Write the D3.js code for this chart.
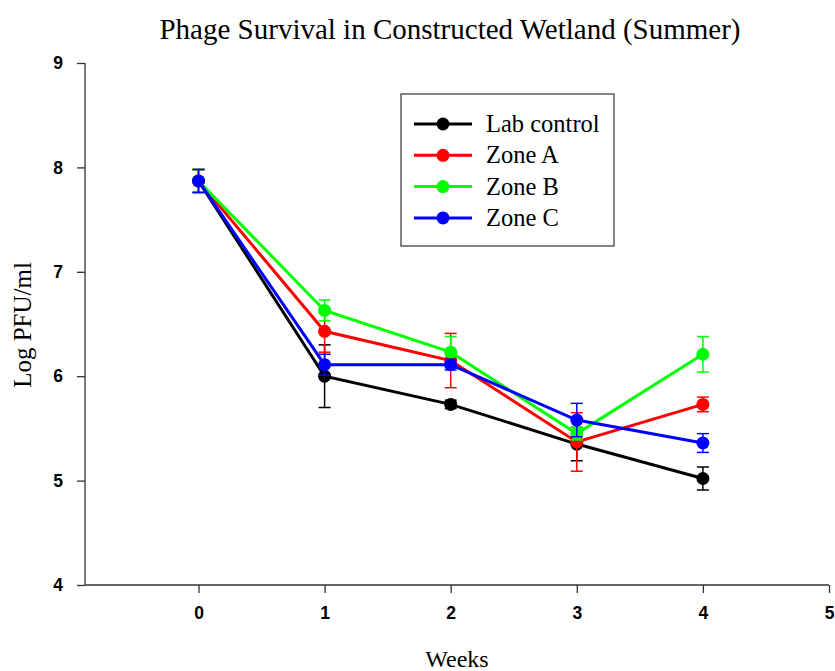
<!DOCTYPE html>
<html>
<head>
<meta charset="utf-8">
<title>Phage Survival</title>
<script src="https://cdn.jsdelivr.net/npm/d3@7"></script>
<style>
  body { margin: 0; background: #fff; }
  .tick text { font-family: "Liberation Sans", Arial, sans-serif; font-weight: bold; font-size: 17.5px; }
</style>
</head>
<body>
<svg width="835" height="671"></svg>
<script>
var weeks = [0, 1, 2, 3, 4];
var seriesNames = ["Lab control", "Zone A", "Zone B", "Zone C"];
var seriesColors = ["#000000", "#ff0000", "#00ff00", "#0000ff"];
var labControl = [7.87, 6.00, 5.73, 5.35, 5.02];
var labControlErr = [0.11, 0.30, 0.04, 0.16, 0.11];
var zoneA = [7.87, 6.43, 6.15, 5.37, 5.73];
var zoneAErr = [0.11, 0.20, 0.26, 0.28, 0.07];
var zoneB = [7.87, 6.63, 6.23, 5.45, 6.21];
var zoneBErr = [0.11, 0.10, 0.15, 0.06, 0.17];
var zoneC = [7.87, 6.11, 6.11, 5.58, 5.36];
var zoneCErr = [0.11, 0.10, 0.05, 0.16, 0.09];
var yTicks = [4, 5, 6, 7, 8, 9];
var xTicks = [0, 1, 2, 3, 4, 5];

var series = [
  { name: seriesNames[0], color: seriesColors[0], values: labControl, err: labControlErr },
  { name: seriesNames[1], color: seriesColors[1], values: zoneA, err: zoneAErr },
  { name: seriesNames[2], color: seriesColors[2], values: zoneB, err: zoneBErr },
  { name: seriesNames[3], color: seriesColors[3], values: zoneC, err: zoneCErr }
];

var svg = d3.select("svg"),
    margin = { left: 85, right: 6, top: 63, bottom: 86 },
    width = +svg.attr("width") - margin.left - margin.right,
    height = +svg.attr("height") - margin.top - margin.bottom;

var g = svg.append("g").attr("transform", "translate(" + margin.left + "," + margin.top + ")");

var x = d3.scaleLinear().domain([-0.9, 5]).range([0, width]);
var y = d3.scaleLinear().domain([4, 9]).range([height, 0]);

// axes
var xAxis = g.append("g")
    .attr("transform", "translate(0," + height + ")")
    .call(d3.axisBottom(x).tickValues(xTicks).tickFormat(d3.format("d")).tickSize(8).tickPadding(14));
var yAxis = g.append("g")
    .call(d3.axisLeft(y).tickValues(yTicks).tickFormat(d3.format("d")).tickSize(8).tickPadding(14));
[xAxis, yAxis].forEach(function(a) {
  a.select(".domain").attr("stroke", "#333").attr("stroke-width", 1.3);
  a.selectAll(".tick line").attr("stroke", "#333").attr("stroke-width", 1.3);
  a.selectAll(".tick text").attr("fill", "#000");
});
xAxis.select(".domain").attr("d", "M0,0H" + width);
yAxis.select(".domain").attr("d", "M0," + height + "V0");

var line = d3.line()
    .x(function(d, i) { return x(weeks[i]); })
    .y(function(d) { return y(d); });

var capW = 6;
series.forEach(function(s) {
  var sg = g.append("g");
  sg.append("path")
      .datum(s.values)
      .attr("fill", "none")
      .attr("stroke", s.color)
      .attr("stroke-width", 3)
      .attr("d", line);

  var eb = sg.selectAll(".eb").data(s.values).enter().append("g");
  eb.append("line")
      .attr("x1", function(d, i) { return x(weeks[i]); })
      .attr("x2", function(d, i) { return x(weeks[i]); })
      .attr("y1", function(d, i) { return y(d - s.err[i]); })
      .attr("y2", function(d, i) { return y(d + s.err[i]); })
      .attr("stroke", s.color).attr("stroke-width", 1.5);
  eb.append("line")
      .attr("x1", function(d, i) { return x(weeks[i]) - capW; })
      .attr("x2", function(d, i) { return x(weeks[i]) + capW; })
      .attr("y1", function(d, i) { return y(d - s.err[i]); })
      .attr("y2", function(d, i) { return y(d - s.err[i]); })
      .attr("stroke", s.color).attr("stroke-width", 1.5);
  eb.append("line")
      .attr("x1", function(d, i) { return x(weeks[i]) - capW; })
      .attr("x2", function(d, i) { return x(weeks[i]) + capW; })
      .attr("y1", function(d, i) { return y(d + s.err[i]); })
      .attr("y2", function(d, i) { return y(d + s.err[i]); })
      .attr("stroke", s.color).attr("stroke-width", 1.5);

  sg.selectAll(".pt").data(s.values).enter().append("circle")
      .attr("cx", function(d, i) { return x(weeks[i]); })
      .attr("cy", function(d) { return y(d); })
      .attr("r", 6.5)
      .attr("fill", s.color);
});

// legend
var lg = svg.append("g").attr("transform", "translate(401,94)");
lg.append("rect")
    .attr("width", 213).attr("height", 152)
    .attr("fill", "#fff").attr("stroke", "#333").attr("stroke-width", 1.2);
series.forEach(function(s, i) {
  var ly = 30 + i * 31.3;
  lg.append("line").attr("x1", 13).attr("x2", 71).attr("y1", ly).attr("y2", ly)
      .attr("stroke", s.color).attr("stroke-width", 3);
  lg.append("circle").attr("cx", 42).attr("cy", ly).attr("r", 6.5).attr("fill", s.color);
  lg.append("text").attr("x", 85).attr("y", ly + 8)
      .style("font-family", "'Liberation Serif', 'Times New Roman', serif")
      .style("font-size", "24.5px")
      .text(s.name);
});

// titles
svg.append("text")
    .attr("x", 450).attr("y", 39)
    .attr("text-anchor", "middle")
    .style("font-family", "'Liberation Serif', 'Times New Roman', serif")
    .style("font-size", "29px")
    .text("Phage Survival in Constructed Wetland (Summer)");
svg.append("text")
    .attr("x", 457).attr("y", 667)
    .attr("text-anchor", "middle")
    .style("font-family", "'Liberation Serif', 'Times New Roman', serif")
    .style("font-size", "24px")
    .text("Weeks");
svg.append("text")
    .attr("transform", "translate(31,325) rotate(-90)")
    .attr("text-anchor", "middle")
    .style("font-family", "'Liberation Serif', 'Times New Roman', serif")
    .style("font-size", "25px")
    .text("Log PFU/ml");
</script>
</body>
</html>
